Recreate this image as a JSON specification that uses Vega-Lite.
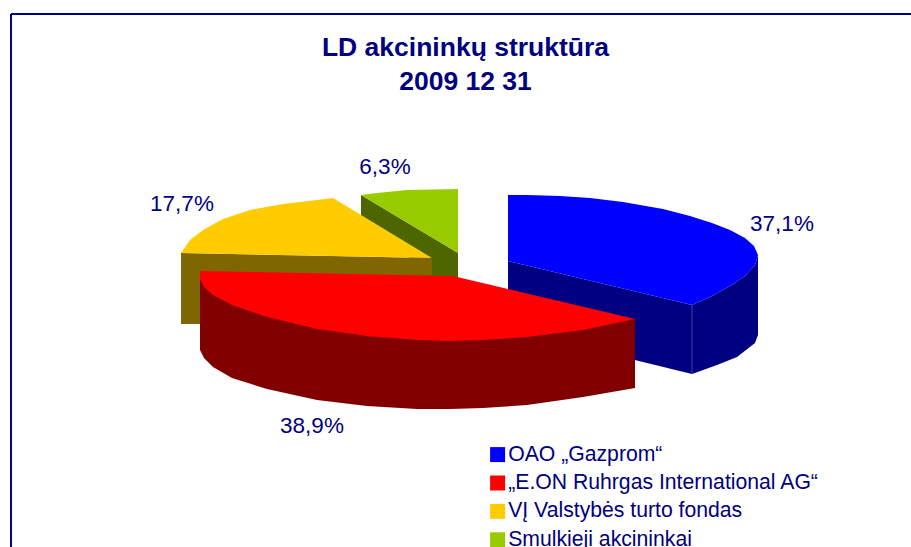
{
"$schema":"https://vega.github.io/schema/vega-lite/v6.json",
"width":911,"height":547,"padding":0,"autosize":{"type":"none"},
"background":"white",
"config":{"view":{"stroke":null},"font":"Liberation Sans"},
"title":{"text":["LD akcininkų struktūra","2009 12 31"],"font":"Liberation Sans","fontSize":26.5,"fontWeight":"bold","color":"#000080","anchor":"middle","dx":10,"dy":122.5,"lineHeight":34.5,"baseline":"bottom","offset":0},
"datasets":{
"frame":[{"x":11,"y":14,"x2":911,"y2":14},{"x":11,"y":14,"x2":11,"y2":547}],
"edges":[{"x":692,"y":305,"x2":692,"y2":374}],
"shapes":[
{"part":"Smulkieji akcininkai – šonas","o":1,"x":361,"y":195},{"part":"Smulkieji akcininkai – šonas","o":2,"x":458,"y":253},{"part":"Smulkieji akcininkai – šonas","o":3,"x":458,"y":278},{"part":"Smulkieji akcininkai – šonas","o":4,"x":432,"y":278},{"part":"Smulkieji akcininkai – šonas","o":5,"x":361,"y":216},
{"part":"Smulkieji akcininkai","o":1,"x":361,"y":195},{"part":"Smulkieji akcininkai","o":2,"x":377,"y":193},{"part":"Smulkieji akcininkai","o":3,"x":407,"y":190},{"part":"Smulkieji akcininkai","o":4,"x":458,"y":189},{"part":"Smulkieji akcininkai","o":5,"x":458,"y":253},
{"part":"VĮ Valstybės turto fondas – šonas","o":1,"x":181,"y":253},{"part":"VĮ Valstybės turto fondas – šonas","o":2,"x":432,"y":258},{"part":"VĮ Valstybės turto fondas – šonas","o":3,"x":432,"y":278},{"part":"VĮ Valstybės turto fondas – šonas","o":4,"x":210,"y":324},{"part":"VĮ Valstybės turto fondas – šonas","o":5,"x":181,"y":324},
{"part":"VĮ Valstybės turto fondas","o":1,"x":181,"y":253},{"part":"VĮ Valstybės turto fondas","o":2,"x":190,"y":240},{"part":"VĮ Valstybės turto fondas","o":3,"x":203,"y":230},{"part":"VĮ Valstybės turto fondas","o":4,"x":223,"y":219},{"part":"VĮ Valstybės turto fondas","o":5,"x":250,"y":210},{"part":"VĮ Valstybės turto fondas","o":6,"x":283,"y":204},{"part":"VĮ Valstybės turto fondas","o":7,"x":317,"y":200},{"part":"VĮ Valstybės turto fondas","o":8,"x":333,"y":198},{"part":"VĮ Valstybės turto fondas","o":9,"x":432,"y":258},
{"part":"OAO „Gazprom“ – šonas","o":1,"x":508,"y":261},{"part":"OAO „Gazprom“ – šonas","o":2,"x":692,"y":305},{"part":"OAO „Gazprom“ – šonas","o":3,"x":712,"y":296},{"part":"OAO „Gazprom“ – šonas","o":4,"x":730,"y":286},{"part":"OAO „Gazprom“ – šonas","o":5,"x":745,"y":276},{"part":"OAO „Gazprom“ – šonas","o":6,"x":755,"y":265},{"part":"OAO „Gazprom“ – šonas","o":7,"x":758,"y":255},{"part":"OAO „Gazprom“ – šonas","o":8,"x":758,"y":335},{"part":"OAO „Gazprom“ – šonas","o":9,"x":755,"y":343},{"part":"OAO „Gazprom“ – šonas","o":10,"x":737,"y":357},{"part":"OAO „Gazprom“ – šonas","o":11,"x":717,"y":365},{"part":"OAO „Gazprom“ – šonas","o":12,"x":692,"y":374},{"part":"OAO „Gazprom“ – šonas","o":13,"x":508,"y":329},
{"part":"OAO „Gazprom“","o":1,"x":508,"y":195},{"part":"OAO „Gazprom“","o":2,"x":527,"y":195},{"part":"OAO „Gazprom“","o":3,"x":560,"y":196},{"part":"OAO „Gazprom“","o":4,"x":590,"y":198},{"part":"OAO „Gazprom“","o":5,"x":623,"y":202},{"part":"OAO „Gazprom“","o":6,"x":663,"y":209},{"part":"OAO „Gazprom“","o":7,"x":690,"y":216},{"part":"OAO „Gazprom“","o":8,"x":712,"y":223},{"part":"OAO „Gazprom“","o":9,"x":730,"y":230},{"part":"OAO „Gazprom“","o":10,"x":745,"y":238},{"part":"OAO „Gazprom“","o":11,"x":754,"y":246},{"part":"OAO „Gazprom“","o":12,"x":758,"y":255},{"part":"OAO „Gazprom“","o":13,"x":755,"y":265},{"part":"OAO „Gazprom“","o":14,"x":745,"y":276},{"part":"OAO „Gazprom“","o":15,"x":730,"y":286},{"part":"OAO „Gazprom“","o":16,"x":712,"y":296},{"part":"OAO „Gazprom“","o":17,"x":692,"y":305},{"part":"OAO „Gazprom“","o":18,"x":508,"y":261},
{"part":"„E.ON Ruhrgas International AG“ – šonas","o":1,"x":200,"y":275},{"part":"„E.ON Ruhrgas International AG“ – šonas","o":2,"x":635,"y":319},{"part":"„E.ON Ruhrgas International AG“ – šonas","o":3,"x":635,"y":388},{"part":"„E.ON Ruhrgas International AG“ – šonas","o":4,"x":583,"y":397},{"part":"„E.ON Ruhrgas International AG“ – šonas","o":5,"x":527,"y":405},{"part":"„E.ON Ruhrgas International AG“ – šonas","o":6,"x":483,"y":408},{"part":"„E.ON Ruhrgas International AG“ – šonas","o":7,"x":450,"y":409},{"part":"„E.ON Ruhrgas International AG“ – šonas","o":8,"x":417,"y":409},{"part":"„E.ON Ruhrgas International AG“ – šonas","o":9,"x":367,"y":406},{"part":"„E.ON Ruhrgas International AG“ – šonas","o":10,"x":317,"y":400},{"part":"„E.ON Ruhrgas International AG“ – šonas","o":11,"x":267,"y":389},{"part":"„E.ON Ruhrgas International AG“ – šonas","o":12,"x":232,"y":378},{"part":"„E.ON Ruhrgas International AG“ – šonas","o":13,"x":213,"y":367},{"part":"„E.ON Ruhrgas International AG“ – šonas","o":14,"x":204,"y":358},{"part":"„E.ON Ruhrgas International AG“ – šonas","o":15,"x":200,"y":350},
{"part":"„E.ON Ruhrgas International AG“","o":1,"x":200,"y":271},{"part":"„E.ON Ruhrgas International AG“","o":2,"x":453,"y":276},{"part":"„E.ON Ruhrgas International AG“","o":3,"x":635,"y":319},{"part":"„E.ON Ruhrgas International AG“","o":4,"x":583,"y":330},{"part":"„E.ON Ruhrgas International AG“","o":5,"x":527,"y":337},{"part":"„E.ON Ruhrgas International AG“","o":6,"x":483,"y":340},{"part":"„E.ON Ruhrgas International AG“","o":7,"x":450,"y":341},{"part":"„E.ON Ruhrgas International AG“","o":8,"x":417,"y":340},{"part":"„E.ON Ruhrgas International AG“","o":9,"x":367,"y":336},{"part":"„E.ON Ruhrgas International AG“","o":10,"x":317,"y":329},{"part":"„E.ON Ruhrgas International AG“","o":11,"x":267,"y":317},{"part":"„E.ON Ruhrgas International AG“","o":12,"x":232,"y":305},{"part":"„E.ON Ruhrgas International AG“","o":13,"x":213,"y":295},{"part":"„E.ON Ruhrgas International AG“","o":14,"x":204,"y":287},{"part":"„E.ON Ruhrgas International AG“","o":15,"x":200,"y":279}
],
"labels":[
{"slice":"OAO „Gazprom“","share":37.1,"label":"37,1%","x":782,"y":224},
{"slice":"„E.ON Ruhrgas International AG“","share":38.9,"label":"38,9%","x":312,"y":426},
{"slice":"VĮ Valstybės turto fondas","share":17.7,"label":"17,7%","x":182,"y":204},
{"slice":"Smulkieji akcininkai","share":6.3,"label":"6,3%","x":385,"y":167}
]
},
"layer":[
{"data":{"name":"frame"},
"mark":{"type":"rule","color":"#000080","strokeWidth":2},
"encoding":{"x":{"field":"x","type":"quantitative","scale":{"domain":[0,911],"nice":false},"axis":null},"y":{"field":"y","type":"quantitative","scale":{"domain":[547,0],"nice":false},"axis":null},"x2":{"field":"x2"},"y2":{"field":"y2"}}},
{"data":{"name":"shapes"},
"mark":{"type":"line","filled":true,"interpolate":"linear-closed","strokeWidth":0},
"encoding":{
"x":{"field":"x","type":"quantitative"},
"y":{"field":"y","type":"quantitative"},
"order":{"field":"o","type":"quantitative"},
"color":{"field":"part","type":"nominal","sort":null,
"scale":{"domain":["OAO „Gazprom“","„E.ON Ruhrgas International AG“","VĮ Valstybės turto fondas","Smulkieji akcininkai","OAO „Gazprom“ – šonas","„E.ON Ruhrgas International AG“ – šonas","VĮ Valstybės turto fondas – šonas","Smulkieji akcininkai – šonas"],
"range":["#0000ff","#ff0000","#ffcc00","#99cc00","#000080","#800000","#806600","#4d6600"]},
"legend":{"values":["OAO „Gazprom“","„E.ON Ruhrgas International AG“","VĮ Valstybės turto fondas","Smulkieji akcininkai"],"title":null,"orient":"none","legendX":487,"legendY":444,"symbolType":"square","symbolSize":225,"symbolStrokeWidth":0,"labelFont":"Liberation Sans","labelFontSize":21.2,"labelColor":"#000080","labelOffset":0,"rowPadding":6.4,"labelLimit":400,"padding":0}}
}},
{"data":{"name":"edges"},
"mark":{"type":"rule","color":"#4040a8","strokeWidth":1},
"encoding":{"x":{"field":"x","type":"quantitative"},"y":{"field":"y","type":"quantitative"},"x2":{"field":"x2"},"y2":{"field":"y2"}}},
{"data":{"name":"labels"},
"mark":{"type":"text","font":"Liberation Sans","fontSize":22.5,"color":"#000080","align":"center","baseline":"middle"},
"encoding":{"x":{"field":"x","type":"quantitative"},"y":{"field":"y","type":"quantitative"},"text":{"field":"label"}}}
]
}
